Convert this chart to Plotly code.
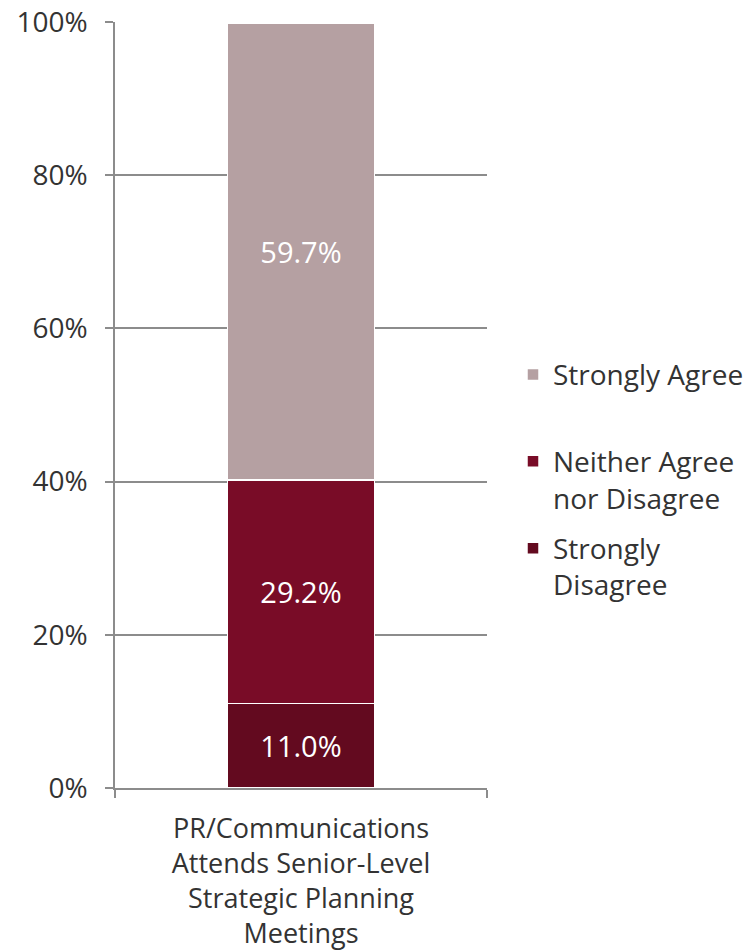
import plotly.graph_objects as go

# Survey responses for one statement, stacked to 100%
category = ["PR/Communications<br>Attends Senior-Level<br>Strategic Planning<br>Meetings"]
responses = ["Strongly<br>Disagree", "Neither Agree<br>nor Disagree", "Strongly Agree<br> "]
shares = [11.0, 29.2, 59.7]
colors = ["#630A1F", "#790C27", "#B5A0A2"]
legend_ranks = [3, 2, 1]

FONT = "Open Sans"
GRAY = "#8C8C8C"

fig = go.Figure()
for name, val, col, rank in zip(responses, shares, colors, legend_ranks):
    fig.add_trace(go.Bar(
        x=category, y=[val], name=name,
        marker=dict(color=col, line=dict(color="white", width=1.5)),
        width=0.395,
        text=[f"{val:.1f}%"], textposition="inside", insidetextanchor="middle",
        textfont=dict(family=FONT, size=29, color="white"),
        legendgroup=name, legendrank=rank,
    ))

fig.update_layout(
    width=750, height=951,
    barmode="stack",
    plot_bgcolor="white", paper_bgcolor="white",
    margin=dict(l=115, r=263, t=22, b=163, autoexpand=False),
    font=dict(family=FONT, size=28, color="#333333"),
    showlegend=True,
    legend=dict(
        xref="container", x=0.684, xanchor="left",
        yref="paper", y=0.572, yanchor="top",
        valign="top", tracegroupgap=11, traceorder="grouped",
        font=dict(family=FONT, size=28, color="#333333"),
        bgcolor="rgba(0,0,0,0)",
    ),
    yaxis=dict(
        range=[0, 100], tickvals=[0, 20, 40, 60, 80, 100],
        ticktext=["0%", "20%", "40%", "60%", "80%", "100%"],
        showgrid=True, gridcolor=GRAY, gridwidth=1.5,
        showline=True, linecolor=GRAY, linewidth=1.5,
        ticks="outside", ticklen=8, tickcolor=GRAY, tickwidth=1.5,
        ticklabelstandoff=12, zeroline=False, automargin=False,
        tickfont=dict(size=28),
    ),
    xaxis=dict(
        showline=True, linecolor=GRAY, linewidth=1.5,
        ticks="outside", tickson="boundaries", ticklen=8,
        tickcolor=GRAY, tickwidth=1.5, automargin=False,
        ticklabelstandoff=16,
        tickfont=dict(size=27),
    ),
)

fig.write_html("out.html")
